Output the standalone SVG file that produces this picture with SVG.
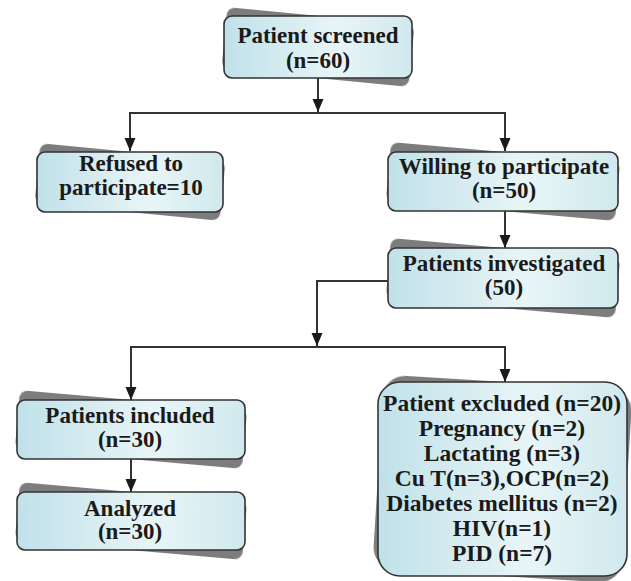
<svg xmlns="http://www.w3.org/2000/svg" width="631" height="581" viewBox="0 0 631 581">
<defs>
<linearGradient id="fill" x1="0" y1="0" x2="1" y2="0">
<stop offset="0" stop-color="#c0e1e9"/>
<stop offset="0.6" stop-color="#e8f5f7"/>
<stop offset="1" stop-color="#d0e9ee"/>
</linearGradient>
<filter id="soft" x="-10%" y="-10%" width="120%" height="120%">
<feGaussianBlur stdDeviation="0.5"/>
</filter>
<marker id="arrow" markerUnits="userSpaceOnUse" markerWidth="14" markerHeight="14" viewBox="0 0 14 14" refX="13" refY="7" orient="auto">
<path d="M0 1.5 L13 7 L0 12.5 Z" fill="#1a1a1a"/>
</marker>
</defs>
<style>
.box{fill:url(#fill);stroke:#333;stroke-width:1.6}
.shadow{fill:#7d7d7d;filter:url(#soft)}
.t{font-family:"Liberation Serif","Times New Roman",serif;font-weight:bold;font-size:23px;fill:#1a1a1a;text-anchor:middle}
.tb{font-size:23.5px}
.conn{fill:none;stroke:#333;stroke-width:2}
</style>
<rect width="631" height="581" fill="#ffffff"/>

<g id="connectors">
<path class="conn" d="M318 78 V112" marker-end="url(#arrow)"/>
<path class="conn" d="M129 113 H506"/>
<path class="conn" d="M130 113 V151" marker-end="url(#arrow)"/>
<path class="conn" d="M505 113 V151" marker-end="url(#arrow)"/>
<path class="conn" d="M505 211 V248" marker-end="url(#arrow)"/>
<path class="conn" d="M388 281 H317 V346" marker-end="url(#arrow)"/>
<path class="conn" d="M130 347 H506"/>
<path class="conn" d="M131 347 V400" marker-end="url(#arrow)"/>
<path class="conn" d="M505 347 V382" marker-end="url(#arrow)"/>
<path class="conn" d="M131 459 V492" marker-end="url(#arrow)"/>
</g>

<g id="node-screened">
<rect class="shadow" x="224" y="16" width="188" height="62" rx="8" transform="rotate(5.5 318 47)"/>
<rect class="box" x="224" y="16" width="188" height="62" rx="8"/>
<text class="t" x="318" y="43">Patient screened</text>
<text class="t" x="318" y="68">(n=60)</text>
</g>

<g id="node-refused">
<rect class="shadow" x="37" y="152" width="186" height="60" rx="8" transform="rotate(5.5 130 182)"/>
<rect class="box" x="37" y="152" width="186" height="60" rx="8"/>
<text class="t" x="131" y="171">Refused to</text>
<text class="t" x="131" y="195">participate=10</text>
</g>

<g id="node-willing">
<rect class="shadow" x="388" y="152" width="230" height="59" rx="8" transform="rotate(5 503 181.5)"/>
<rect class="box" x="388" y="152" width="230" height="59" rx="8"/>
<text class="t" x="504" y="174">Willing to participate</text>
<text class="t" x="504" y="198">(n=50)</text>
</g>

<g id="node-investigated">
<rect class="shadow" x="388" y="248" width="230" height="60" rx="8" transform="rotate(5 503 278)"/>
<rect class="box" x="388" y="248" width="230" height="60" rx="8"/>
<text class="t" x="504" y="271">Patients investigated</text>
<text class="t" x="504" y="295">(50)</text>
</g>

<g id="node-included">
<rect class="shadow" x="17" y="400" width="228" height="59" rx="8" transform="rotate(5 131 429.5)"/>
<rect class="box" x="17" y="400" width="228" height="59" rx="8"/>
<text class="t" x="130" y="423">Patients included</text>
<text class="t" x="130" y="447">(n=30)</text>
</g>

<g id="node-analyzed">
<rect class="shadow" x="17" y="492" width="228" height="58" rx="8" transform="rotate(5 131 521)"/>
<rect class="box" x="17" y="492" width="228" height="58" rx="8"/>
<text class="t" x="130" y="516">Analyzed</text>
<text class="t" x="130" y="539">(n=30)</text>
</g>

<g id="node-excluded">
<rect class="shadow" x="378" y="382" width="249" height="194" rx="22" transform="rotate(3.5 502.5 479)"/>
<rect class="box" x="378" y="382" width="249" height="194" rx="22"/>
<text class="t tb" x="502" y="411">Patient excluded (n=20)</text>
<text class="t tb" x="502" y="436">Pregnancy (n=2)</text>
<text class="t tb" x="502" y="461">Lactating (n=3)</text>
<text class="t tb" x="502" y="486">Cu T(n=3),OCP(n=2)</text>
<text class="t tb" x="502" y="511">Diabetes mellitus (n=2)</text>
<text class="t tb" x="502" y="536">HIV(n=1)</text>
<text class="t tb" x="502" y="561">PID (n=7)</text>
</g>
</svg>
